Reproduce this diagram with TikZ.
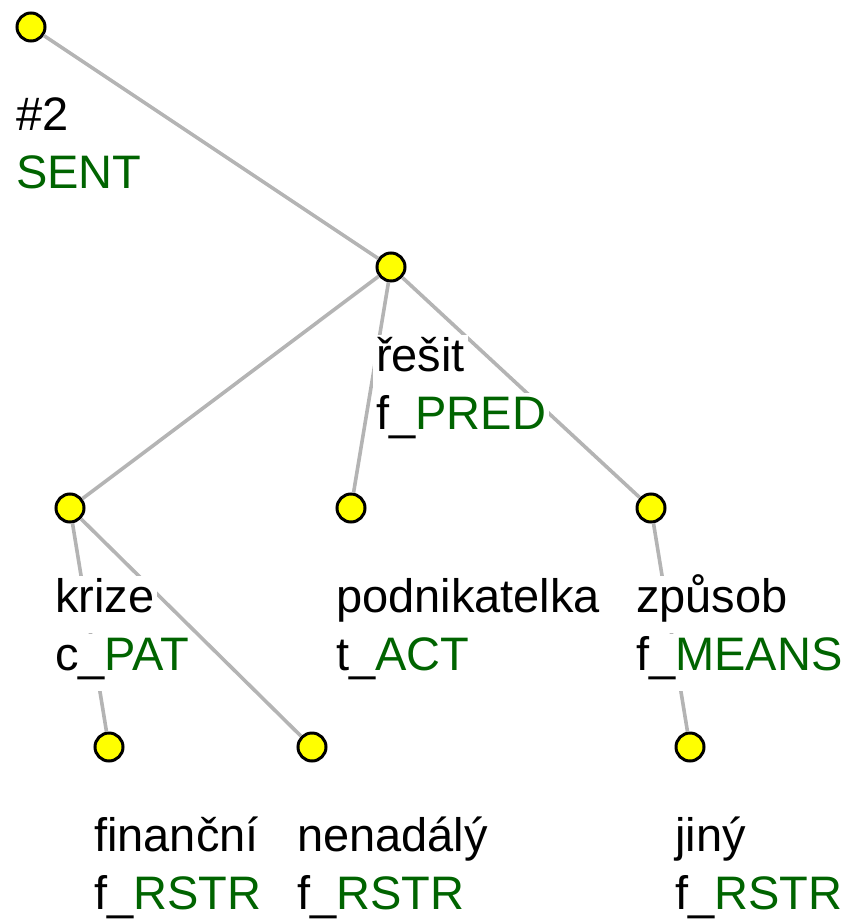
\documentclass[tikz,border=0pt]{standalone}
\usepackage{fontspec}
\setmainfont{Liberation Sans}
\usetikzlibrary{positioning}
\definecolor{node_fill}{HTML}{FFFF00}
\definecolor{edge_gray}{HTML}{B4B4B4}
\definecolor{func_green}{HTML}{006400}

% etichetta a due righe sotto un nodo: nome, parola, prefisso, funtore
\newcommand{\treelabel}[4]{
    \node[word] (#1_w) at ([xshift=-18pt, yshift=-104pt]#1.center) {#2};
    \node[word] (#1_f) at ([xshift=-18pt, yshift=-162pt]#1.center) {#3\textcolor{func_green}{#4}};
}

\begin{document}
\begin{tikzpicture}[
    x=1pt, y=-1pt,
    font={\fontsize{47}{58}\selectfont},
    tnode/.style={circle, draw=black, line width=3pt, fill=node_fill, minimum size=28pt, inner sep=0pt},
    edge/.style={draw=edge_gray, line width=3.6pt},
    word/.style={anchor=base west, fill=white, inner xsep=3pt, inner ysep=3pt,
                 text height=33pt, text depth=18pt}
]
\useasboundingbox (0,0) rectangle (843,920);

% --- Nodi dell'albero ---
\node[tnode] (root) at (31,27) {};
\node[tnode] (resit) at (391,267) {};
\node[tnode] (krize) at (70,508) {};
\node[tnode] (podnik) at (351,508) {};
\node[tnode] (zpusob) at (651,508) {};
\node[tnode] (financni) at (109,747) {};
\node[tnode] (nenadaly) at (312,747) {};
\node[tnode] (jiny) at (690,747) {};

% --- Archi (sotto le etichette) ---
\draw[edge] (root) -- (resit);
\draw[edge] (resit) -- (krize);
\draw[edge] (resit) -- (podnik);
\draw[edge] (resit) -- (zpusob);
\draw[edge] (krize) -- (financni);
\draw[edge] (krize) -- (nenadaly);
\draw[edge] (zpusob) -- (jiny);

% --- Etichette ---
\node[word] (root_w) at ([xshift=-18pt, yshift=-104pt]root.center) {\#2};
\node[word] (root_f) at ([xshift=-18pt, yshift=-162pt]root.center) {\textcolor{func_green}{SENT}};
\treelabel{resit}{řešit}{f\_}{PRED}
\treelabel{krize}{krize}{c\_}{PAT}
\treelabel{podnik}{podnikatelka}{t\_}{ACT}
\treelabel{zpusob}{způsob}{f\_}{MEANS}
\treelabel{financni}{finanční}{f\_}{RSTR}
\treelabel{nenadaly}{nenadálý}{f\_}{RSTR}
\treelabel{jiny}{jiný}{f\_}{RSTR}

\end{tikzpicture}
\end{document}
